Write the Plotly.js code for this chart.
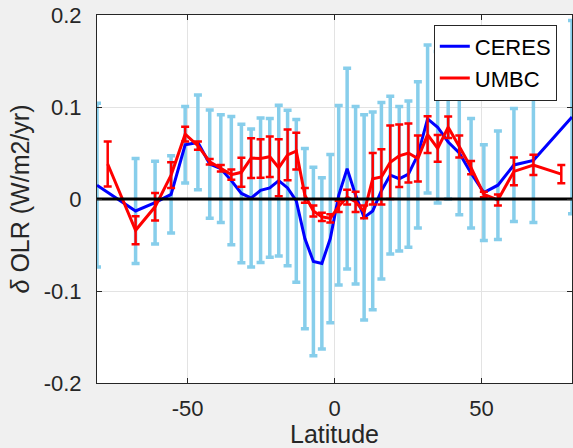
<!DOCTYPE html>
<html>
<head>
<meta charset="utf-8">
<script src="https://cdn.plot.ly/plotly-3.0.1.min.js"></script>
<style>html,body{margin:0;padding:0;background:#f0f0f0;}#chart{width:573px;height:448px;}</style>
</head>
<body>
<div id="chart"></div>
<script>
// Latitude centres (equal-area bins) and CERES / UMBC OLR trends
const ceresLat = [-80.8, -67.67, -61.04, -55.59, -50.81, -46.47, -42.45, -38.68, -35.10, -31.67,
  -28.36, -25.15, -22.02, -18.97, -15.96, -13.00, -10.08, -7.18, -4.30, -1.43,
  1.43, 4.30, 7.18, 10.08, 13.00, 15.96, 18.97, 22.02, 25.15, 28.36,
  31.67, 35.10, 38.68, 42.45, 46.47, 50.81, 55.59, 61.04, 67.67, 80.8];
const ceresVal = [0.015, -0.013, -0.004, 0.005, 0.059, 0.0615, 0.038, 0.033, 0.020, 0.006,
  0.001, 0.0095, 0.012, 0.020, 0.012, -0.002, -0.043, -0.068, -0.070, -0.043,
  0.004, 0.033, 0.004, -0.020, -0.013, 0.009, 0.026, 0.022, 0.027, 0.048,
  0.087, 0.078, 0.062, 0.050, 0.028, 0.007, 0.015, 0.037, 0.042, 0.089];
const ceresErr = [0.089, 0.057, 0.045, 0.042, 0.0415, 0.0515, 0.0588, 0.0585, 0.0696, 0.0753,
  0.075, 0.0785, 0.0754, 0.082, 0.0845, 0.0885, 0.098, 0.1025, 0.093, 0.0915,
  0.0975, 0.109, 0.0965, 0.1115, 0.1075, 0.096, 0.0857, 0.0786, 0.0795, 0.0794,
  0.0804, 0.0823, 0.062, 0.067, 0.0595, 0.052, 0.059, 0.0615, 0.0675, 0.105];

const umbcLat = [-77.16, -67.67, -61.04, -55.59, -50.81, -46.47, -42.45, -38.68, -35.10, -31.67,
  -28.36, -25.15, -22.02, -18.97, -15.96, -13.00, -10.08, -7.18, -4.30, -1.43,
  1.43, 4.30, 7.18, 10.08, 13.00, 15.96, 18.97, 22.02, 25.15, 28.36,
  31.67, 35.10, 38.68, 42.45, 46.47, 50.81, 55.59, 61.04, 67.67, 77.16];
const umbcVal = [0.038, -0.034, -0.0085, 0.026, 0.0705, 0.058, 0.0405, 0.0335, 0.0265, 0.029,
  0.0445, 0.044, 0.046, 0.034, 0.048, 0.052, 0.004, -0.013, -0.0195, -0.021,
  -0.008, 0.002, -0.003, -0.014, 0.022, 0.024, 0.040, 0.047, 0.050, 0.044,
  0.070, 0.055, 0.078, 0.057, 0.034, 0.005, -0.001, 0.030, 0.037, 0.027];
const umbcErr = [0.0244, 0.0153, 0.015, 0.014, 0.008, 0.0045, 0.003, 0.0035, 0.0055, 0.0158,
  0.0216, 0.021, 0.022, 0.031, 0.0275, 0.02, 0.008, 0.006, 0.0045, 0.0045,
  0.006, 0.008, 0.011, 0.007, 0.028, 0.03, 0.04, 0.034, 0.032, 0.025,
  0.02, 0.0145, 0.0117, 0.012, 0.0072, 0.003, 0.006, 0.015, 0.011, 0.01];

const xRange = [-80.8, 80.8];
const yRange = [-0.2, 0.2];
const xTickVals = [-50, 0, 50];
const xTickText = ['-50', '0', '50'];
const yTickVals = [-0.2, -0.1, 0, 0.1, 0.2];
const yTickText = ['-0.2', '-0.1', '0', '0.1', '0.2'];
const zeroLevel = [0, 0];

const traces = [
  { // CERES uncertainty bars
    x: ceresLat, y: ceresVal, type: 'scatter', mode: 'markers',
    marker: {size: 1, opacity: 0}, showlegend: false, hoverinfo: 'skip',
    error_y: {type: 'data', array: ceresErr, visible: true, color: '#87ceeb', thickness: 3.5, width: 4}
  },
  {
    x: ceresLat, y: ceresVal, type: 'scatter', mode: 'lines', name: 'CERES',
    line: {color: '#0000ff', width: 3}
  },
  {
    x: umbcLat, y: umbcVal, type: 'scatter', mode: 'lines', name: 'UMBC',
    line: {color: '#ff0000', width: 3},
    error_y: {type: 'data', array: umbcErr, visible: true, color: '#ff0000', thickness: 2.5, width: 4}
  },
  {
    x: xRange, y: zeroLevel, type: 'scatter', mode: 'lines', showlegend: false, hoverinfo: 'skip',
    line: {color: '#000000', width: 3}
  }
];

const axisCommon = {
  ticks: 'inside', ticklen: 5, tickwidth: 1, tickcolor: '#262626',
  showline: true, linecolor: '#262626', linewidth: 1, mirror: 'ticks',
  showgrid: true, gridcolor: '#e3e3e3', gridwidth: 1, zeroline: false,
  tickfont: {size: 22, color: '#262626'}
};

const layout = {
  width: 573, height: 448,
  paper_bgcolor: '#f0f0f0', plot_bgcolor: '#ffffff',
  margin: {l: 97, r: 1, t: 15, b: 65},
  font: {family: '"Liberation Sans", Arial, sans-serif', color: '#262626', size: 22},
  xaxis: Object.assign({}, axisCommon, {
    range: xRange, tickmode: 'array', tickvals: xTickVals, ticktext: xTickText,
    ticklabelstandoff: 6,
    title: {text: 'Latitude', font: {size: 25, color: '#262626'}, standoff: 2}
  }),
  yaxis: Object.assign({}, axisCommon, {
    range: yRange, tickmode: 'array', tickvals: yTickVals, ticktext: yTickText,
    ticklabelstandoff: 10,
    title: {text: '<i>δ</i> OLR (W/m2/yr)', font: {size: 25, color: '#262626'}, standoff: 6}
  }),
  showlegend: true,
  legend: {
    x: 0.968, y: 0.974, xanchor: 'right', yanchor: 'top',
    bgcolor: '#ffffff', bordercolor: '#262626', borderwidth: 1,
    font: {size: 22, color: '#000000'}, tracegroupgap: 0, itemwidth: 30
  }
};

Plotly.newPlot('chart', traces, layout, {displayModeBar: false, staticPlot: true});
</script>
</body>
</html>
